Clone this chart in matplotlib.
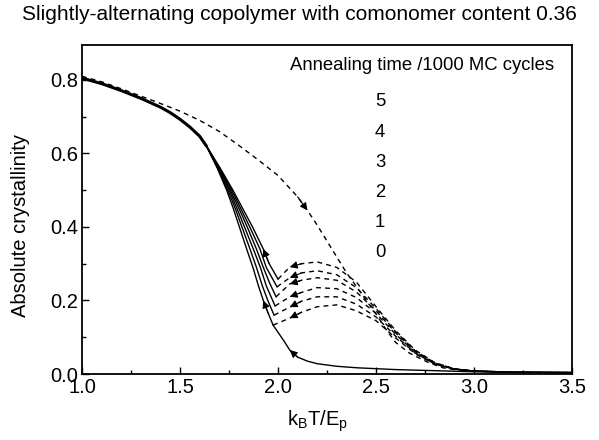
import matplotlib
matplotlib.use("Agg")
import matplotlib.pyplot as plt
from matplotlib.ticker import MultipleLocator, FormatStrFormatter

plt.rcParams['font.family'] = ['Liberation Sans', 'DejaVu Sans']

# ---------------- data ----------------
# heating curve (dashed)
heat_x = [1.0, 1.1, 1.2, 1.3, 1.4, 1.5, 1.6, 1.7, 1.8, 1.9, 2.0, 2.1, 2.15, 2.2, 2.3, 2.35,
          2.4, 2.45, 2.5, 2.55, 2.6, 2.67, 2.76, 2.84, 2.9, 3.0, 3.2, 3.5]
heat_y = [0.81, 0.795, 0.776, 0.756, 0.736, 0.715, 0.69, 0.66, 0.622, 0.582, 0.54, 0.482,
          0.445, 0.405, 0.318, 0.275, 0.238, 0.2, 0.163, 0.122, 0.086, 0.057, 0.033, 0.017,
          0.012, 0.008, 0.005, 0.004]

# cooling from melt without annealing (solid, bottom)
cool0_x = [3.5, 3.2, 3.0, 2.8, 2.6, 2.4, 2.3, 2.2, 2.15, 2.1, 2.06, 2.03, 1.975]
cool0_y = [0.003, 0.004, 0.006, 0.009, 0.012, 0.017, 0.021, 0.028, 0.035, 0.046, 0.065, 0.09, 0.133]

# common low-temperature solid branch
common_x = [1.0, 1.1, 1.2, 1.3, 1.4, 1.45, 1.5, 1.55, 1.6, 1.635]
common_y = [0.805, 0.79, 0.771, 0.75, 0.726, 0.711, 0.693, 0.672, 0.647, 0.62]

# diverging solid tails (cooling branches)
tail_x = [
    [1.635, 1.69, 1.738, 1.772, 1.803, 1.84, 1.872, 1.90, 1.925, 1.95, 1.975],
    [1.635, 1.693, 1.744, 1.782, 1.816, 1.857, 1.89, 1.92, 1.948, 1.98],
    [1.635, 1.696, 1.751, 1.791, 1.829, 1.874, 1.91, 1.94, 1.985],
    [1.635, 1.699, 1.757, 1.801, 1.843, 1.89, 1.925, 1.955, 1.99],
    [1.635, 1.702, 1.764, 1.81, 1.856, 1.908, 1.94, 1.995],
    [1.635, 1.705, 1.77, 1.82, 1.87, 1.925, 1.955, 2.0],
]
tail_y = [
    [0.62, 0.56, 0.50, 0.45, 0.40, 0.34, 0.29, 0.24, 0.20, 0.165, 0.133],
    [0.62, 0.56, 0.50, 0.45, 0.40, 0.34, 0.29, 0.24, 0.20, 0.16],
    [0.62, 0.56, 0.50, 0.45, 0.40, 0.34, 0.29, 0.24, 0.185],
    [0.62, 0.56, 0.50, 0.45, 0.40, 0.34, 0.29, 0.25, 0.21],
    [0.62, 0.56, 0.50, 0.45, 0.40, 0.34, 0.29, 0.237],
    [0.62, 0.56, 0.50, 0.45, 0.40, 0.34, 0.30, 0.258],
]

# dashed hump curves (after annealing)
hump_grid = [2.06, 2.12, 2.2, 2.3, 2.4, 2.5, 2.6, 2.7, 2.8, 2.9, 3.0, 3.2, 3.5]
hump_y = [
    [0.152, 0.168, 0.183, 0.188, 0.172, 0.145, 0.098, 0.055, 0.026, 0.013, 0.008, 0.005, 0.004],
    [0.182, 0.198, 0.21, 0.21, 0.19, 0.155, 0.103, 0.057, 0.027, 0.013, 0.008, 0.005, 0.004],
    [0.21, 0.222, 0.235, 0.232, 0.208, 0.165, 0.108, 0.059, 0.028, 0.013, 0.008, 0.005, 0.004],
    [0.245, 0.255, 0.262, 0.255, 0.223, 0.172, 0.112, 0.061, 0.029, 0.014, 0.008, 0.005, 0.004],
    [0.262, 0.275, 0.281, 0.27, 0.235, 0.178, 0.115, 0.063, 0.03, 0.014, 0.008, 0.005, 0.004],
    [0.291, 0.300, 0.305, 0.29, 0.25, 0.183, 0.118, 0.065, 0.031, 0.014, 0.008, 0.005, 0.004],
]

legend_title = "Annealing time /1000 MC cycles"
legend_values = ["5", "4", "3", "2", "1", "0"]

title = "Slightly-alternating copolymer with comonomer content 0.36"
xlabel = r"k$_\mathregular{B}$T/E$_\mathregular{p}$"
ylabel = "Absolute crystallinity"

# ---------------- plot ----------------
fig = plt.figure(figsize=(5.99, 4.40), dpi=100)
ax = fig.add_axes([0.1369, 0.15, 0.955 - 0.1369, 0.8977 - 0.15])

dash = (0, (3.5, 3.0))
lw = 1.0


def arrow(xs, ys, i_from, i_to):
    x0, y0 = xs[i_from], ys[i_from]
    x1, y1 = xs[i_to], ys[i_to]
    ax.annotate("", xy=(x1, y1), xytext=(x0, y0),
                arrowprops=dict(arrowstyle='-|>', color='k', lw=0.8,
                                mutation_scale=11, shrinkA=0, shrinkB=0))


# heating curve
ax.plot(heat_x, heat_y, color='k', lw=lw, linestyle=dash)
arrow(heat_x, heat_y, 11, 12)

# bottom cooling curve
ax.plot(cool0_x, cool0_y, color='k', lw=lw)
arrow(cool0_x, cool0_y, 9, 10)

# common branch
ax.plot(common_x, common_y, color='k', lw=2.2, solid_capstyle='round')

for i in range(len(tail_x)):
    ax.plot(tail_x[i], tail_y[i], color='k', lw=lw)
    hx = [tail_x[i][-1]] + hump_grid
    hy = [tail_y[i][-1]] + hump_y[i]
    ax.plot(hx, hy, color='k', lw=lw, linestyle=dash)
    arrow(hx, hy, 2, 1)

arrow(tail_x[5], tail_y[5], 6, 5)
arrow(tail_x[0], tail_y[0], 9, 8)

ax.set_xlim(1.0, 3.5)
ax.set_ylim(0.0, 0.895)
ax.xaxis.set_major_locator(MultipleLocator(0.5))
ax.xaxis.set_minor_locator(MultipleLocator(0.25))
ax.yaxis.set_major_locator(MultipleLocator(0.2))
ax.yaxis.set_minor_locator(MultipleLocator(0.1))
ax.xaxis.set_major_formatter(FormatStrFormatter('%.1f'))
ax.yaxis.set_major_formatter(FormatStrFormatter('%.1f'))
ax.tick_params(which='both', direction='in', top=False, right=False, labelsize=14.5,
               colors='k', width=1.0)
ax.tick_params(axis='x', pad=3)
ax.tick_params(axis='y', pad=3)
ax.tick_params(which='major', length=5)
ax.tick_params(which='minor', length=3)
for s in ax.spines.values():
    s.set_linewidth(1.3)

ax.set_xlabel(xlabel, fontsize=14.5)
ax.xaxis.set_label_coords(0.48, -0.145, transform=ax.transAxes)
ax.xaxis.label.set_va('center')
ax.set_ylabel(ylabel, fontsize=14.5)
ax.yaxis.set_label_coords(-0.125, 0.45, transform=ax.transAxes)
ax.yaxis.label.set_va('center')
fig.text(0.5, 0.966, title, ha='center', va='center', fontsize=15)

ax.text(2.06, 0.84, legend_title, ha='left', va='center', fontsize=13.3)
for j, v in enumerate(legend_values):
    ax.text(2.52, 0.74 - 0.082 * j, v, ha='center', va='center', fontsize=13.3)

fig.savefig("out.png", dpi=100)
